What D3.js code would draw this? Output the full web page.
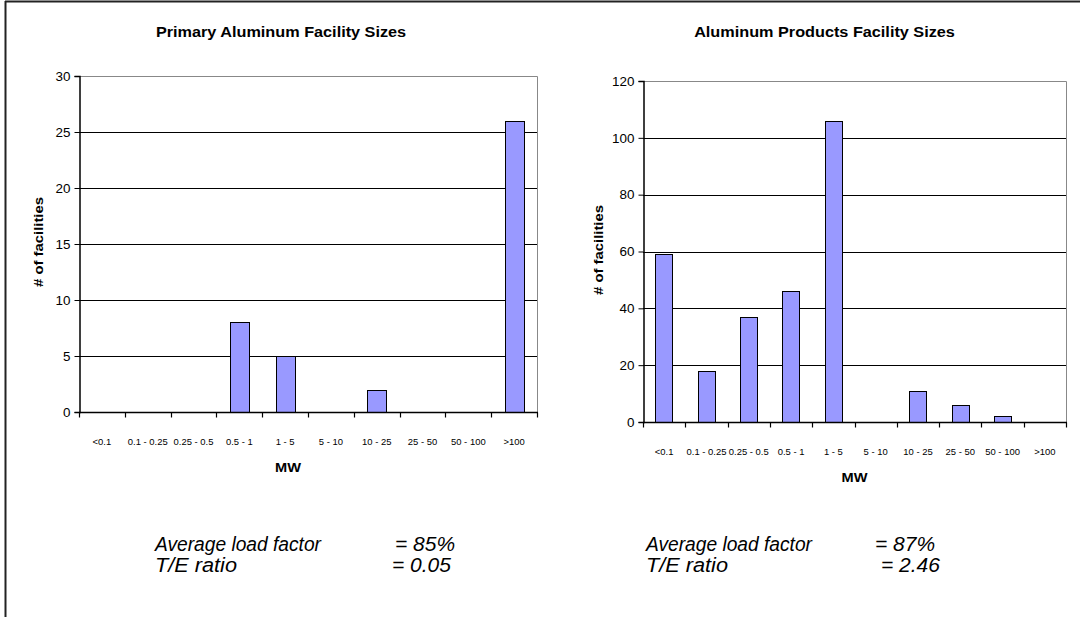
<!DOCTYPE html>
<html><head><meta charset="utf-8">
<script src="https://cdn.jsdelivr.net/npm/d3@7"></script>
<style>
html,body{margin:0;padding:0;background:#fff;}
text{font-family:Arial,"Liberation Sans",sans-serif;fill:#000;}
</style></head>
<body>
<svg id="chart" width="1080" height="617"></svg>
<script>
const categories = ["<0.1","0.1 - 0.25","0.25 - 0.5","0.5 - 1","1 - 5","5 - 10","10 - 25","25 - 50","50 - 100",">100"];
const primaryValues = [0,0,0,8,5,0,2,0,0,26];
const productsValues = [59,18,37,46,106,0,11,6,2,0];
const primaryTicks = [0,5,10,15,20,25,30];
const productsTicks = [0,20,40,60,80,100,120];
const primaryTitle = "Primary Aluminum Facility Sizes";
const productsTitle = "Aluminum Products Facility Sizes";
const primaryNotes = [["Average load factor","= 85%"],["T/E ratio","= 0.05"]];
const productsNotes = [["Average load factor","= 87%"],["T/E ratio","= 2.46"]];

const svg = d3.select("#chart");
svg.append("rect").attr("width",1080).attr("height",617).attr("fill","#fff");
// outer frame (top and left visible)
svg.append("line").attr("x1",5).attr("x2",1080).attr("y1",1.5).attr("y2",1.5).attr("stroke","#222").attr("stroke-width",2);
svg.append("line").attr("x1",5.5).attr("x2",5.5).attr("y1",1).attr("y2",617).attr("stroke","#222").attr("stroke-width",2);

function stext(parent, x, y, txt, o){
  const t = parent.append("text")
    .attr("transform",`translate(${x},${y}) scale(${o.sx||1},1)`)
    .attr("text-anchor",o.anchor||"start")
    .attr("font-size",o.size)
    .attr("font-weight",o.bold?"bold":"normal")
    .attr("font-style",o.italic?"italic":"normal")
    .text(txt);
  if(o.len){ t.attr("textLength",o.len).attr("lengthAdjust","spacingAndGlyphs"); }
  return t;
}

function drawChart(cfg){
  const g = svg.append("g");
  const x = d3.scaleBand().domain(categories).range([cfg.x0,cfg.x1]).paddingInner(0).paddingOuter(0);
  const y = d3.scaleLinear().domain([0,d3.max(cfg.ticks)]).range([cfg.yb,cfg.yt]);
  // gridlines
  g.append("g").selectAll("line").data(cfg.ticks.filter(t=>t>0 && t<d3.max(cfg.ticks))).join("line")
    .attr("x1",cfg.x0).attr("x2",cfg.x1).attr("y1",d=>Math.round(y(d))+0.5).attr("y2",d=>Math.round(y(d))+0.5)
    .attr("stroke","#000").attr("stroke-width",1);
  // plot border top/right gray
  const ytop = Math.round(y(d3.max(cfg.ticks)))+0.5;
  g.append("path").attr("d",`M${cfg.x0},${ytop}H${cfg.x1+0.5}V${cfg.yb}`).attr("fill","none").attr("stroke","#888").attr("stroke-width",1);
  // bars
  const bw = x.bandwidth()*0.41;
  g.append("g").selectAll("rect").data(cfg.values).join("rect")
    .attr("x",(d,i)=>Math.round(x(categories[i])+x.bandwidth()/2-bw/2)+0.5)
    .attr("width",Math.round(bw))
    .attr("y",d=>Math.round(y(d))+0.5)
    .attr("height",d=>Math.max(0,Math.round(y(0))-Math.round(y(d))))
    .attr("fill",d=>d>0?"#9999FF":"none").attr("stroke",d=>d>0?"#000":"none").attr("stroke-width",1);
  // y axis
  const ya = d3.axisLeft(y).tickValues(cfg.ticks).tickSize(5).tickPadding(4).tickFormat(d3.format("d"));
  const yg = g.append("g").attr("transform",`translate(${cfg.x0+0.5},0)`).call(ya);
  yg.select(".domain").attr("stroke","#000").attr("stroke-width",1.5);
  yg.selectAll(".tick line").attr("stroke","#000");
  yg.selectAll(".tick text").attr("font-size",12).attr("font-family","Arial,'Liberation Sans',sans-serif")
    .attr("fill","#000").attr("transform","scale(1.12,1)").attr("x",-9/1.12).attr("dy","0.36em");
  // x axis line + boundary ticks
  const yb = Math.round(y(0))+0.5;
  g.append("line").attr("x1",cfg.x0).attr("x2",cfg.x1+1).attr("y1",yb).attr("y2",yb).attr("stroke","#000").attr("stroke-width",1.5);
  const bounds = categories.map(c=>x(c)).concat([cfg.x1]);
  g.append("g").selectAll("line").data(bounds).join("line")
    .attr("x1",d=>Math.round(d)+0.5).attr("x2",d=>Math.round(d)+0.5).attr("y1",yb).attr("y2",yb+5)
    .attr("stroke","#000").attr("stroke-width",1.2);
  const xa = d3.axisBottom(x).tickSize(0).tickPadding(0);
  const xg = g.append("g").attr("transform",`translate(0,${cfg.labelY})`).call(xa);
  xg.select(".domain").remove();
  xg.selectAll(".tick text").attr("font-size",9).attr("font-family","Arial,'Liberation Sans',sans-serif")
    .attr("fill","#000").attr("dy",0).attr("y",0).attr("transform","scale(1.05,1)");
  // titles
  stext(g,(cfg.x0+cfg.x1)/2+cfg.titleDx,37,cfg.title,{size:14,bold:true,anchor:"middle",sx:1.16});
  stext(g,(cfg.x0+cfg.x1)/2+cfg.mwDx,cfg.mwY,"MW",{size:13.5,bold:true,anchor:"middle",sx:1.08});
  g.append("text").attr("transform",`translate(${cfg.ylabX},${cfg.ylabY}) rotate(-90) scale(1.1,1)`)
    .attr("text-anchor","middle").attr("font-size",13.5).attr("font-weight","bold").text("# of facilities");
  // notes
  const noteLens = [166, 82];
  cfg.notes.forEach((n,i)=>{
    stext(g,cfg.noteX,551+i*21,n[0],{size:20,italic:true,len:noteLens[i]});
    stext(g,cfg.eqX[i],551+i*21,n[1],{size:20,italic:true,sx:1.05});
  });
}

drawChart({x0:79,x1:537,yt:76,yb:412,ticks:primaryTicks,values:primaryValues,title:primaryTitle,
  labelY:445,mwY:472,mwDx:-20,titleDx:-27,ylabX:43,ylabY:242,notes:primaryNotes,noteX:155,eqX:[395,392]});
drawChart({x0:643,x1:1066,yt:81,yb:422,ticks:productsTicks,values:productsValues,title:productsTitle,
  labelY:455,mwY:482,mwDx:-0,titleDx:-30,ylabX:603,ylabY:250,notes:productsNotes,noteX:646,eqX:[875,881]});
</script>
</body></html>
